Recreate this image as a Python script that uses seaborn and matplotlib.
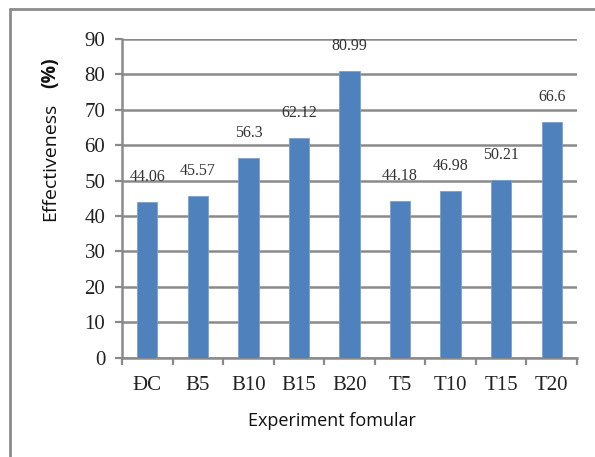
import matplotlib
matplotlib.use("Agg")
import matplotlib.pyplot as plt
from matplotlib.lines import Line2D
from matplotlib.ticker import FixedLocator
import seaborn as sns
import pandas as pd
import numpy as np

categories = ["ĐC", "B5", "B10", "B15", "B20", "T5", "T10", "T15", "T20"]
values = [44.06, 45.57, 56.3, 62.12, 80.99, 44.18, 46.98, 50.21, 66.6]
value_labels = ["44.06", "45.57", "56.3", "62.12", "80.99", "44.18", "46.98", "50.21", "66.6"]
yticks = [0, 10, 20, 30, 40, 50, 60, 70, 80, 90]

sns.set_theme(style="white")
plt.rcParams['font.family'] = ['Liberation Serif', 'DejaVu Serif']

df = pd.DataFrame({"cat": categories, "val": values})

fig = plt.figure(figsize=(5.95, 4.57), dpi=100)
ax = fig.add_axes([122/595, 1 - 357.7/457, (577-122)/595, (357.7-39)/457])

sns.barplot(data=df, x="cat", y="val", color="#4F81BD", saturation=1, width=0.4, ax=ax, zorder=3)
for p in ax.patches:
    p.set_edgecolor("#7BA0CD")
    p.set_linewidth(0.6)

gridc = "#8A8A8A"
ax.set_ylim(0, 90)
ax.set_xlim(-0.5, len(categories) - 0.5)
ax.set_yticks(yticks)
ax.yaxis.grid(True, color=gridc, linewidth=1.8, zorder=0)
ax.set_axisbelow(True)
for s in ["top", "right"]:
    ax.spines[s].set_visible(False)
for s in ["left", "bottom"]:
    ax.spines[s].set_color(gridc)
    ax.spines[s].set_linewidth(1.8)

ax.tick_params(axis="y", which="major", left=True, length=5, width=1.6, color=gridc,
               labelsize=15, pad=7, labelcolor="#222222")
ax.tick_params(axis="x", which="major", bottom=False, length=0, labelsize=15, pad=13,
               labelcolor="#222222")
ax.xaxis.set_minor_locator(FixedLocator(np.arange(-0.5, len(categories), 1.0)))
ax.tick_params(axis="x", which="minor", bottom=True, length=5, width=1.6, color=gridc)

ax.set_xlabel("")
ax.set_ylabel("")

for i, (v, lab) in enumerate(zip(values, value_labels)):
    ax.annotate(lab, xy=(i, v), xytext=(0, 18), textcoords="offset points",
                ha="center", va="center", fontsize=11.5, color="#333333")

fig.text(332/595, 1 - 421/457, "Experiment fomular", ha="center", va="center",
         fontsize=13, family=["Open Sans", "DejaVu Sans"], color="#111111")
fig.text(50/595, 1 - 162/457, "Effectiveness", ha="center", va="center", rotation=90,
         fontsize=14, family=["Open Sans", "DejaVu Sans"], color="#111111")
fig.text(50/595, 1 - 73/457, "(%)", ha="center", va="center", rotation=90,
         fontsize=14, fontweight="bold", family=["Open Sans", "DejaVu Sans"], color="#111111")

# outer frame (left and top edges)
fig.add_artist(Line2D([9.5/595, 9.5/595], [0, 1 - 9/457], transform=fig.transFigure,
                      color="#8C8C8C", linewidth=2))
fig.add_artist(Line2D([9.5/595, 1], [1 - 9/457, 1 - 9/457], transform=fig.transFigure,
                      color="#8C8C8C", linewidth=2))

fig.savefig("out.png", dpi=100)
